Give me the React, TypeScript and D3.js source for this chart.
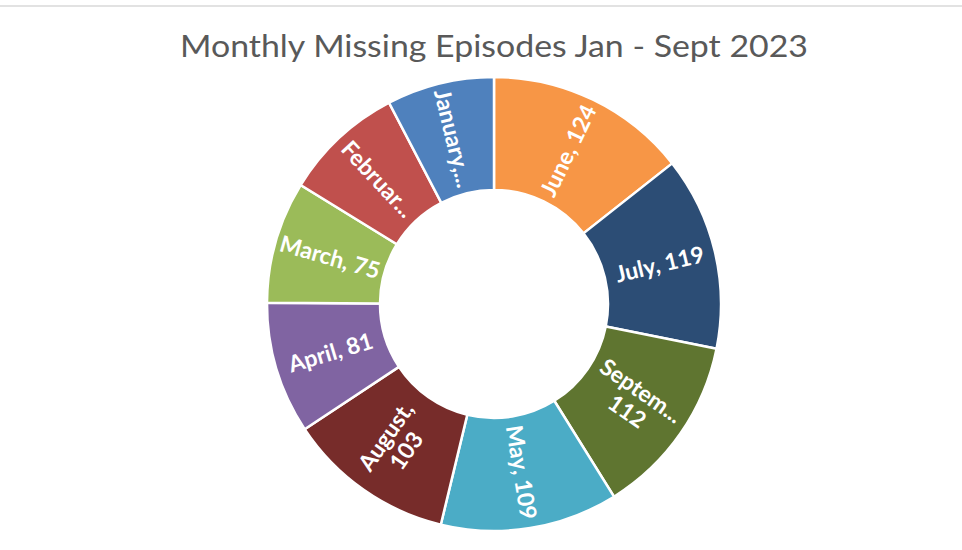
import React from "react";
import * as d3 from "d3";

const months = ["June", "July", "September", "May", "August", "April", "March", "February", "January"];
const values = [124, 119, 112, 109, 103, 81, 75, 74, 66];
const colors = ["#F79646", "#2C4D75", "#5F7530", "#4BACC6", "#772C2A", "#8064A2", "#9BBB59", "#C0504D", "#4F81BD"];
// Labels as displayed (Excel truncates / wraps long ones)
const labelLines: string[][] = [
  ["June, 124"],
  ["July, 119"],
  ["Septem...", "112"],
  ["May, 109"],
  ["August,", "103"],
  ["April, 81"],
  ["March, 75"],
  ["Februar..."],
  ["January,..."],
];
const title = "Monthly Missing Episodes Jan - Sept 2023";

const W = 962;
const H = 550;
const cx = 494;
const cy = 304;
const outerR = 227;
const innerR = 114;

export default function App() {
  const pie = d3.pie<number>().sort(null).value((d) => d)(values);
  const arc = d3.arc<d3.PieArcDatum<number>>().innerRadius(innerR).outerRadius(outerR);
  const midR = (innerR + outerR) / 2;
  return (
    <svg width={W} height={H} style={{ position: "absolute", left: 0, top: 0, background: "#fff" }}>
      <line x1={0} x2={W} y1={6} y2={6} stroke="#d9d9d9" strokeWidth={1.5} />
      <text
        x={cx}
        y={57}
        textAnchor="middle"
        fontFamily="Lato, 'Open Sans', sans-serif"
        fontSize={31}
        fill="#595959"
        textLength={628}
        lengthAdjust="spacingAndGlyphs"
      >
        {title}
      </text>
      <g transform={`translate(${cx},${cy})`}>
        {pie.map((p, i) => (
          <path key={i} d={arc(p) || ""} fill={colors[i]} stroke="#fff" strokeWidth={2.5} />
        ))}
        {pie.map((p, i) => {
          const mid = (p.startAngle + p.endAngle) / 2;
          const deg = (mid * 180) / Math.PI;
          const x = Math.sin(mid) * midR;
          const y = -Math.cos(mid) * midR;
          const rot = deg < 180 ? deg - 90 : deg + 90 - 360;
          const lines = labelLines[i];
          const lh = 25;
          return (
            <text
              key={"l" + i}
              transform={`translate(${x},${y}) rotate(${rot})`}
              textAnchor="middle"
              fontFamily="Lato, 'Open Sans', sans-serif"
              fontWeight="bold"
              fontSize={23}
              fill="#fff"
            >
              {lines.map((t, j) => (
                <tspan key={j} x={0} y={(j - (lines.length - 1) / 2) * lh} dy="0.35em">
                  {t}
                </tspan>
              ))}
            </text>
          );
        })}
      </g>
    </svg>
  );
}
